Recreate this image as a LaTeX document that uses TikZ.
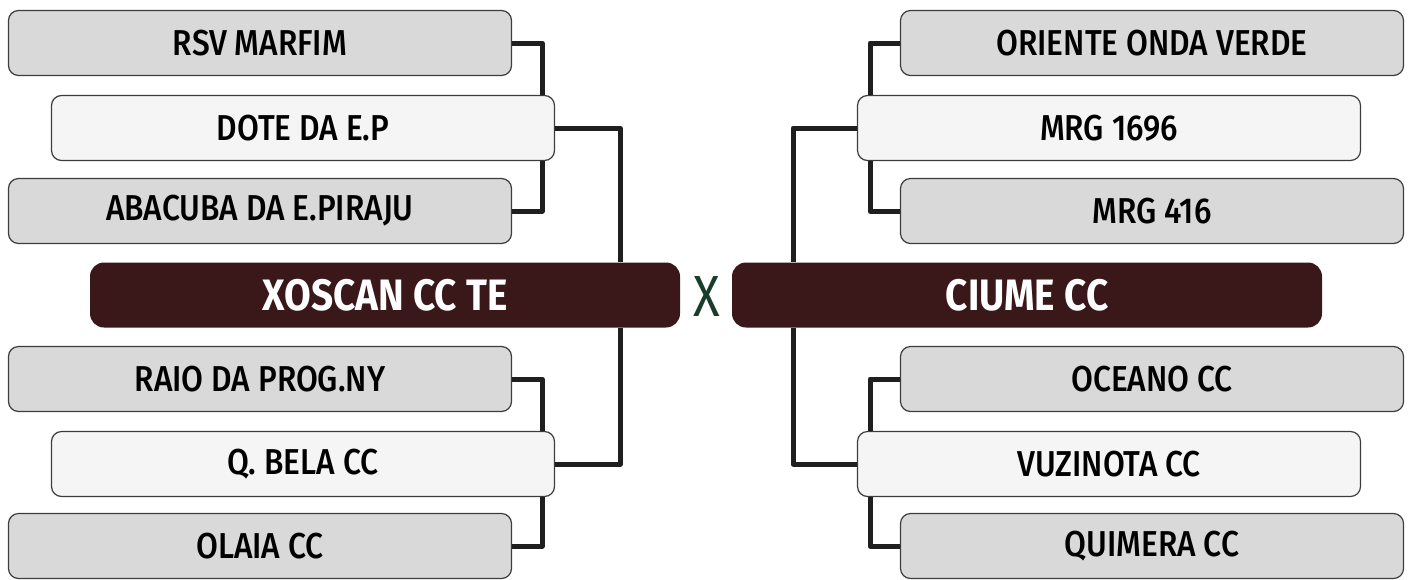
\documentclass[tikz,border=0pt]{standalone}
\usepackage{fontspec}
\setmainfont{Fira Sans}[UprightFont=* Medium, BoldFont=* Bold, FakeStretch=0.88]
\newfontfamily\vsfont{Fira Sans}[FakeStretch=0.85]
\definecolor{outerfill}{HTML}{D9D9D9}
\definecolor{innerfill}{HTML}{F5F5F5}
\definecolor{boxline}{HTML}{3C3C3C}
\definecolor{finalfill}{HTML}{3A1719}
\definecolor{linkcol}{HTML}{1F1F1F}
\definecolor{vscol}{HTML}{183D2A}
\begin{document}
\begin{tikzpicture}[x=0.5pt, y=-0.5pt, line join=round,
    team/.style={draw=boxline, line width=0.6pt, rounded corners=5pt,
      minimum width=251.5pt, minimum height=32.5pt, inner sep=0pt,
      font=\fontsize{18}{20}\selectfont, text=black},
    outer/.style={team, fill=outerfill},
    inner/.style={team, fill=innerfill},
    final/.style={fill=finalfill, rounded corners=7pt, minimum width=295pt,
      minimum height=32.5pt, inner sep=0pt, text=white,
      font=\fontsize{22}{24}\selectfont\bfseries},
    link/.style={draw=linkcol, line width=2.5pt}]
  \useasboundingbox (0,0) rectangle (1412,579);

  % Lado esquerdo
  \node[outer] (rsv)   at (260,43)  {RSV MARFIM};
  \node[inner] (dote)  at (303,128) {DOTE DA E.P};
  \node[outer] (abac)  at (260,211) {ABACUBA DA E.PIRAJU};
  \node[final] (xosc)  at (385,295) {XOSCAN CC TE};
  \node[outer] (raio)  at (260,379) {RAIO DA PROG.NY};
  \node[inner] (qbela) at (303,464) {Q. BELA CC};
  \node[outer] (olaia) at (260,546) {OLAIA CC};

  % Lado direito
  \node[outer] (orie)  at (1152,43)  {ORIENTE ONDA VERDE};
  \node[inner] (mrga)  at (1109,128) {MRG 1696};
  \node[outer] (mrgb)  at (1152,211) {MRG 416};
  \node[final] (ciume) at (1027,295) {CIUME CC};
  \node[outer] (ocea)  at (1152,379) {OCEANO CC};
  \node[inner] (vuzi)  at (1109,464) {VUZINOTA CC};
  \node[outer] (quim)  at (1152,546) {QUIMERA CC};

  % X
  \node[text=vscol, font=\vsfont\fontsize{29}{31}\selectfont] (vs) at (707,297) {X};

  % Colunas das ligacoes
  \coordinate (jl) at (542,0);
  \coordinate (kl) at (620,0);
  \coordinate (jr) at (870,0);
  \coordinate (kr) at (793,0);

  % Ligacoes esquerda
  \draw[link] (rsv.east)   -| (jl |- dote.north);
  \draw[link] (abac.east)  -| (jl |- dote.south);
  \draw[link] (dote.east)  -| (kl |- xosc.north);
  \draw[link] (raio.east)  -| (jl |- qbela.north);
  \draw[link] (olaia.east) -| (jl |- qbela.south);
  \draw[link] (qbela.east) -| (kl |- xosc.south);

  % Ligacoes direita
  \draw[link] (orie.west) -| (jr |- mrga.north);
  \draw[link] (mrgb.west) -| (jr |- mrga.south);
  \draw[link] (mrga.west) -| (kr |- ciume.north);
  \draw[link] (ocea.west) -| (jr |- vuzi.north);
  \draw[link] (quim.west) -| (jr |- vuzi.south);
  \draw[link] (vuzi.west) -| (kr |- ciume.south);
\end{tikzpicture}
\end{document}
